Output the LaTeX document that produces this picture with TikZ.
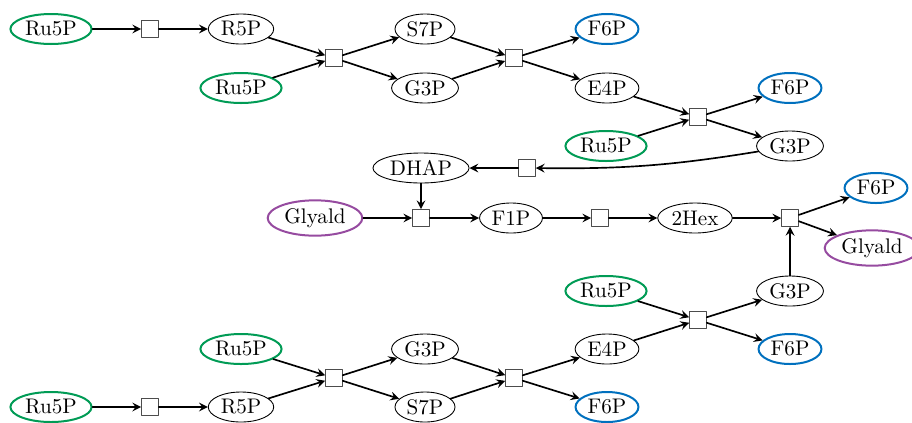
\documentclass[tikz,border=0pt]{standalone}
\usetikzlibrary{shapes.geometric,arrows}
\definecolor{rugreen}{RGB}{0,155,85}
\definecolor{fblue}{RGB}{0,112,190}
\definecolor{glpurple}{RGB}{150,75,160}
\begin{document}
\begin{tikzpicture}[x=0.45pt,y=-0.45pt,>=stealth, font=\fontsize{9.5}{11}\selectfont, line join=round, line cap=round,
    met/.style={ellipse, draw, inner sep=1.3pt, minimum height=13.5pt},
    ru/.style={met, draw=rugreen, line width=0.9pt},
    fsix/.style={met, draw=fblue, line width=0.9pt},
    gly/.style={met, draw=glpurple, line width=0.9pt},
    rxn/.style={rectangle, draw=black!70, fill=white, minimum size=7.5pt, inner sep=0pt},
    flow/.style={->, line width=0.75pt}]
    \useasboundingbox (0,0) rectangle (912,422);
    %Nhánh trên
    \node[ru] (ruA) at (51,29) {Ru5P};
    \node[rxn] (rA) at (150,29) {};
    \node[met] (rfA) at (241,29) {R5P};
    \node[ru] (ruB) at (241,88) {Ru5P};
    \node[rxn] (rB) at (334,58) {};
    \node[met] (ssA) at (425,29) {S7P};
    \node[met] (gA) at (425,88) {G3P};
    \node[rxn] (rC) at (514,58) {};
    \node[fsix] (fA) at (607,29) {F6P};
    \node[met] (eA) at (607,88) {E4P};
    \node[rxn] (rD) at (698,117) {};
    \node[fsix] (fB) at (790,88) {F6P};
    \node[ru] (ruC) at (606,146) {Ru5P};
    \node[met] (gB) at (790,146) {G3P};
    \node[rxn] (rE) at (527,168) {};
    \node[met] (dhap) at (421,168) {DHAP};
    \draw[flow] (ruA)--(rA);
    \draw[flow] (rA)--(rfA);
    \draw[flow] (rfA)--(rB);
    \draw[flow] (ruB)--(rB);
    \draw[flow] (rB)--(ssA);
    \draw[flow] (rB)--(gA);
    \draw[flow] (ssA)--(rC);
    \draw[flow] (gA)--(rC);
    \draw[flow] (rC)--(fA);
    \draw[flow] (rC)--(eA);
    \draw[flow] (eA)--(rD);
    \draw[flow] (ruC)--(rD);
    \draw[flow] (rD)--(fB);
    \draw[flow] (rD)--(gB);
    \draw[flow] (gB) to[bend left=5] (rE);
    \draw[flow] (rE)--(dhap);
    %Nhánh giữa
    \node[gly] (glA) at (315,218) {Glyald};
    \node[rxn] (rF) at (421,218) {};
    \node[met] (fone) at (511,218) {F1P};
    \node[rxn] (rG) at (600,218) {};
    \node[met] (hex) at (695,218) {2Hex};
    \node[rxn] (rH) at (790,218) {};
    \node[fsix] (fC) at (876,188) {F6P};
    \node[gly] (glB) at (872,248) {Glyald};
    \draw[flow] (dhap)--(rF);
    \draw[flow] (glA)--(rF);
    \draw[flow] (rF)--(fone);
    \draw[flow] (fone)--(rG);
    \draw[flow] (rG)--(hex);
    \draw[flow] (hex)--(rH);
    \draw[flow] (rH)--(fC);
    \draw[flow] (rH)--(glB);
    %Nhánh dưới
    \node[met] (gC) at (790,291) {G3P};
    \node[ru] (ruD) at (606,291) {Ru5P};
    \node[rxn] (rI) at (698,320) {};
    \node[fsix] (fD) at (790,349) {F6P};
    \node[met] (eB) at (607,349) {E4P};
    \node[rxn] (rJ) at (514,378) {};
    \node[met] (gD) at (425,349) {G3P};
    \node[met] (ssB) at (425,407) {S7P};
    \node[fsix] (fE) at (607,407) {F6P};
    \node[rxn] (rK) at (334,378) {};
    \node[ru] (ruE) at (241,349) {Ru5P};
    \node[met] (rfB) at (241,407) {R5P};
    \node[rxn] (rL) at (150,407) {};
    \node[ru] (ruF) at (51,407) {Ru5P};
    \draw[flow] (gC)--(rH);
    \draw[flow] (ruF)--(rL);
    \draw[flow] (rL)--(rfB);
    \draw[flow] (rfB)--(rK);
    \draw[flow] (ruE)--(rK);
    \draw[flow] (rK)--(gD);
    \draw[flow] (rK)--(ssB);
    \draw[flow] (gD)--(rJ);
    \draw[flow] (ssB)--(rJ);
    \draw[flow] (rJ)--(eB);
    \draw[flow] (rJ)--(fE);
    \draw[flow] (eB)--(rI);
    \draw[flow] (ruD)--(rI);
    \draw[flow] (rI)--(gC);
    \draw[flow] (rI)--(fD);
\end{tikzpicture}
\end{document}
